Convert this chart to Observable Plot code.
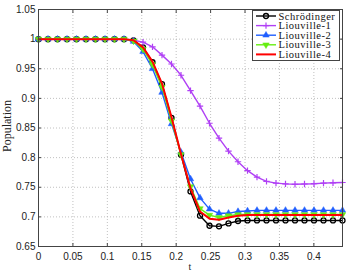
<!DOCTYPE html>
<html><head><meta charset="utf-8">
<script src="https://cdn.jsdelivr.net/npm/d3@7"></script>
<script src="https://cdn.jsdelivr.net/npm/@observablehq/plot@0.6"></script>
<style>body{margin:0;background:#fff}</style>
</head><body><div id="chart"></div>
<script>
const t = [0,0.0138,0.0276,0.0414,0.0552,0.069,0.0828,0.0966,0.1104,0.1242,0.138,0.1518,0.1656,0.1794,0.1932,0.207,0.2208,0.2346,0.2484,0.2622,0.276,0.2898,0.3036,0.3174,0.3312,0.345,0.3588,0.3726,0.3864,0.4002,0.414,0.4278,0.4416];
const schrodinger = [1,1,1,1,1,1,1,1,1,1,0.998,0.986,0.961,0.924,0.867,0.805,0.743,0.702,0.685,0.684,0.689,0.693,0.694,0.694,0.694,0.694,0.694,0.694,0.694,0.694,0.694,0.694,0.694];
const liouville1 = [1,1,1,1,1,1,1,1,1,1,0.998,0.995,0.987,0.973,0.958,0.939,0.913,0.887,0.858,0.833,0.811,0.793,0.778,0.767,0.760,0.757,0.7557,0.755,0.7555,0.756,0.757,0.7575,0.758];
const liouville2 = [1,1,1,1,1,1,1,1,1,1,0.996,0.979,0.95,0.91,0.857,0.809,0.764,0.732,0.713,0.706,0.706,0.709,0.710,0.711,0.711,0.711,0.711,0.711,0.711,0.711,0.711,0.711,0.711];
const liouville3 = [1,1,1,1,1,1,1,1,1,1,0.997,0.983,0.957,0.919,0.862,0.805,0.751,0.714,0.703,0.699,0.702,0.704,0.704,0.704,0.704,0.704,0.704,0.704,0.704,0.704,0.704,0.704,0.704];
const liouville4 = [1,1,1,1,1,1,1,1,1,1,0.998,0.986,0.962,0.925,0.868,0.806,0.748,0.709,0.697,0.695,0.699,0.702,0.703,0.703,0.703,0.703,0.703,0.703,0.703,0.703,0.703,0.703,0.703];
const seriesNames = ["Schrödinger","Liouville-1","Liouville-2","Liouville-3","Liouville-4"];
const xTicks = [0,0.05,0.1,0.15,0.2,0.25,0.3,0.35,0.4];
const yTicks = [0.65,0.7,0.75,0.8,0.85,0.9,0.95,1,1.05];
const xLabel = "t";
const yLabel = "Population";

const colors = ["#000000","#b040f5","#1f5eff","#66ee11","#ff0000"];
const triangleDown = {draw(context, size) {
  const y = -Math.sqrt(size / (Math.sqrt(3) * 3));
  context.moveTo(0, -y * 2);
  context.lineTo(-Math.sqrt(3) * y, y);
  context.lineTo(Math.sqrt(3) * y, y);
  context.closePath();
}};
const styles = [
  {symbol: "circle", fill: "none", stroke: colors[0], r: 2.5, sw: 1.3, lw: 1.4},
  {symbol: "plus", fill: "none", stroke: colors[1], r: 2.2, sw: 1.2, lw: 1.4},
  {symbol: "triangle", fill: colors[2], stroke: colors[2], r: 2.4, sw: 0.5, lw: 1.4},
  {symbol: triangleDown, fill: colors[3], stroke: colors[3], r: 2.4, sw: 0.5, lw: 1.4},
  {symbol: null, lw: 2}
];
const allSeries = [schrodinger, liouville1, liouville2, liouville3, liouville4];
const data = allSeries.map((vals) => t.map((x, i) => ({t: x, v: vals[i]})));

const fmt = d3.format("~g");
const marks = [
  Plot.ruleX(xTicks, {x: d => d, stroke: "#b0b0b0", strokeDasharray: "1,2", strokeWidth: 0.8}),
  Plot.ruleY(yTicks, {y: d => d, stroke: "#b0b0b0", strokeDasharray: "1,2", strokeWidth: 0.8}),
];
data.forEach((d, k) => {
  const s = styles[k];
  marks.push(Plot.line(d, {x: "t", y: "v", stroke: colors[k], strokeWidth: s.lw}));
  if (s.symbol) marks.push(Plot.dot(d, {x: "t", y: "v", symbol: s.symbol, r: s.r, fill: s.fill, stroke: s.stroke, strokeWidth: s.sw}));
});
marks.push(
  Plot.frame({stroke: "#444", strokeWidth: 1}),
  Plot.axisX(xTicks, {anchor: "bottom", tickSize: -3, tickPadding: 9, tickFormat: fmt, label: null, fontSize: 10, stroke: "#444"}),
  Plot.axisX(xTicks, {anchor: "top", tickSize: -3, tickFormat: () => "", label: null, stroke: "#444"}),
  Plot.axisY(yTicks, {anchor: "left", tickSize: -3, tickPadding: 6, tickFormat: fmt, label: null, fontSize: 10, stroke: "#444"}),
  Plot.axisY(yTicks, {anchor: "right", tickSize: -3, tickFormat: () => "", label: null, stroke: "#444"})
);

const chart = Plot.plot({
  width: 346, height: 273,
  marginLeft: 38, marginRight: 4, marginTop: 9, marginBottom: 27,
  style: {fontFamily: "'Liberation Sans', Arial, sans-serif", fontSize: "10px", color: "#222", background: "#fff"},
  x: {domain: [0, 0.4416]},
  y: {domain: [0.65, 1.05]},
  marks
});
document.getElementById("chart").appendChild(chart);

// labels and legend (layout)
const svg = d3.select(chart);
svg.append("text").attr("x", 190).attr("y", 270).attr("text-anchor", "middle")
  .attr("font-family", "'Liberation Serif', serif").attr("font-size", 10).attr("fill", "#222").text(xLabel);
svg.append("text").attr("transform", "translate(11,126) rotate(-90)").attr("text-anchor", "middle")
  .attr("font-family", "'Liberation Serif', serif").attr("font-size", 12).attr("fill", "#222").text(yLabel);

const lg = svg.append("g");
const rowH = 9.6;
lg.append("rect").attr("x", 252.5).attr("y", 10.5).attr("width", 87).attr("height", 5 * rowH + 2)
  .attr("fill", "#fff").attr("stroke", "#444").attr("stroke-width", 1);
seriesNames.forEach((name, k) => {
  const cy = 16 + k * rowH;
  const s = styles[k];
  lg.append("line").attr("x1", 256).attr("x2", 276).attr("y1", cy).attr("y2", cy)
    .attr("stroke", colors[k]).attr("stroke-width", s.lw);
  if (s.symbol) {
    const sym = typeof s.symbol === "string" ? {circle: d3.symbolCircle, plus: d3.symbolPlus, triangle: d3.symbolTriangle}[s.symbol] : s.symbol;
    lg.append("path").attr("transform", `translate(266,${cy})`)
      .attr("d", d3.symbol(sym, Math.PI * s.r * s.r)())
      .attr("fill", s.fill).attr("stroke", s.stroke).attr("stroke-width", s.sw);
  }
  lg.append("text").attr("x", 278.5).attr("y", cy + 3.5).attr("text-anchor", "start")
    .attr("font-family", "'Liberation Serif', serif")
    .attr("font-size", 10.5).attr("letter-spacing", 0.5).attr("fill", "#111").text(name);
});
</script></body></html>
